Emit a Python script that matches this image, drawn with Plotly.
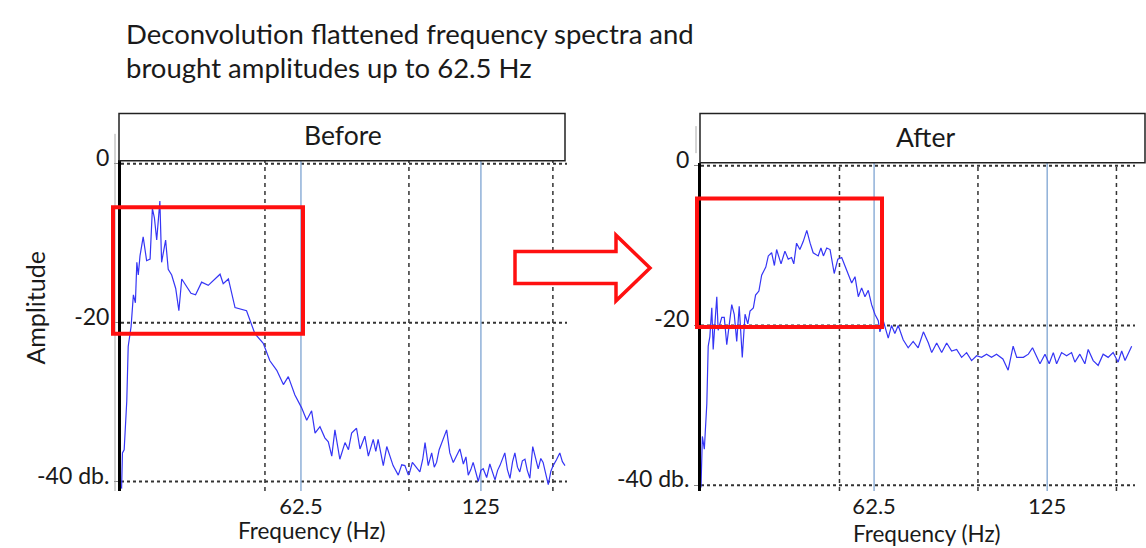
import plotly.graph_objects as go

W, H = 1146, 548

# ---------------- data ----------------
before_freq = [0.2, 0.5, 1.1, 2.0, 2.5, 3.5, 4.3, 5.0, 5.5, 6.0, 6.6, 7.7, 8.9, 10.1, 10.9, 11.6, 12.4,
               13.5, 14.1, 15.5, 16.4, 17.6, 19.0, 20.1, 21.1, 22.5, 24.3, 25.9, 28.0, 30.3, 32.6,
               34.4, 35.5, 37.3, 39.6, 41.3, 43.6, 46.5, 49.4, 51.7, 54.1, 56.4, 58.1, 60.4, 62.7,
               64.5, 66.2, 67.4, 69.1, 70.8, 72.0, 73.2, 74.3, 76.0, 77.8, 79.0, 80.1, 81.8, 83.0,
               84.7, 85.9, 87.6, 88.5, 89.3, 91.1, 92.3, 93.5, 94.5, 96.3, 97.5, 98.6, 99.8, 100.3,
               101.2, 102.1, 103.8, 104.8, 105.6, 106.7, 107.9, 108.8, 109.6, 110.5, 111.4, 113.1,
               114.2, 115.4, 116.5, 117.7, 118.9, 119.8, 120.6, 121.5, 122.3, 124.1, 125.0, 125.8,
               127.0, 128.1, 129.9, 130.8, 131.6, 132.5, 133.3, 134.2, 135.1, 136.0, 136.8, 137.7,
               138.5, 139.4, 140.3, 141.1, 142.0, 143.0, 144.0, 144.9, 145.8, 146.6, 147.5, 148.4,
               149.3, 150.1, 151.2, 152.4, 153.3, 154.2]
before_amp = [-40.9, -36.4, -36.0, -29.9, -23.0, -20.5, -16.5, -17.5, -12.4, -14.0, -11.6, -9.2, -12.2,
              -12.0, -5.6, -6.8, -9.6, -4.7, -12.4, -9.6, -13.3, -14.0, -15.7, -18.5, -14.5, -15.3,
              -16.3, -16.5, -14.9, -15.3, -14.5, -13.9, -15.1, -14.5, -18.1, -18.3, -18.5, -21.4,
              -22.6, -24.8, -26.0, -27.8, -26.8, -29.1, -30.7, -32.3, -31.1, -33.9, -33.1, -34.5,
              -35.0, -36.8, -33.5, -37.2, -35.1, -36.0, -33.9, -33.3, -35.9, -34.3, -36.8, -34.7,
              -36.2, -34.7, -38.0, -35.6, -37.0, -38.0, -39.2, -37.9, -38.0, -39.2, -38.8, -37.6,
              -38.0, -38.8, -37.2, -35.1, -38.0, -36.4, -38.2, -37.6, -36.0, -35.1, -33.5, -36.4,
              -37.6, -36.8, -35.9, -37.8, -36.9, -39.2, -38.5, -37.6, -40.0, -38.6, -38.4, -39.5,
              -37.8, -39.8, -38.6, -38.0, -37.0, -36.4, -38.5, -39.6, -37.5, -36.4, -38.2, -38.8,
              -37.4, -37.2, -38.6, -39.6, -35.6, -37.0, -38.4, -37.1, -37.6, -39.0, -40.4, -38.7,
              -38.0, -37.3, -36.4, -37.5, -38.0]

after_freq = [0.0, 0.5, 1.2, 2.1, 2.6, 3.2, 3.9, 4.4, 5.1, 5.7, 6.2, 7.5, 8.4, 9.3, 11.1, 12.0, 12.9,
              13.8, 14.9, 15.9, 16.9, 17.7, 18.9, 19.7, 20.9, 21.9, 23.4, 24.3, 25.5, 26.5, 27.3,
              28.9, 30.3, 31.5, 32.7, 33.5, 34.5, 35.7, 36.9, 38.2, 39.4, 40.5, 42.3, 43.3, 44.2,
              45.4, 46.6, 48.1, 49.4, 50.8, 52.6, 54.4, 55.6, 56.8, 58.0, 59.2, 60.4, 61.6, 62.8,
              64.0, 64.6, 65.8, 67.6, 68.8, 70.0, 71.2, 73.0, 74.8, 76.6, 78.4, 80.3, 82.1, 83.3,
              85.1, 86.9, 88.7, 90.5, 92.3, 94.1, 95.9, 97.7, 99.5, 101.3, 103.1, 104.9, 106.7,
              109.0, 110.9, 112.7, 114.0, 116.4, 118.2, 119.7, 121.2, 122.4, 124.2, 125.7, 127.2,
              128.4, 130.2, 132.0, 133.8, 135.0, 136.8, 138.6, 139.8, 141.6, 143.4, 145.2, 147.0,
              148.8, 150.6, 151.9, 153.1, 154.3, 155.5]
after_amp = [-40.3, -33.9, -35.5, -29.8, -22.6, -21.4, -17.8, -23.0, -19.4, -16.4, -20.6, -19.0, -19.0,
             -22.4, -17.4, -18.6, -22.0, -17.6, -24.0, -18.6, -19.8, -18.2, -17.8, -16.2, -15.7,
             -13.7, -12.7, -11.3, -10.9, -12.5, -10.5, -12.3, -10.7, -11.7, -11.5, -12.3, -9.7,
             -10.5, -9.5, -8.1, -9.7, -10.9, -11.3, -10.3, -11.3, -10.3, -10.5, -13.5, -11.7,
             -11.5, -13.1, -14.7, -13.9, -16.4, -15.3, -16.4, -15.6, -17.4, -18.6, -19.4, -20.8,
             -19.4, -21.6, -20.0, -21.0, -20.0, -21.8, -22.8, -22.0, -22.8, -20.8, -22.2, -23.4,
             -22.2, -23.4, -22.2, -23.2, -23.0, -24.0, -23.4, -24.4, -23.8, -24.0, -23.6, -24.0,
             -23.6, -24.2, -25.6, -22.6, -24.0, -24.0, -23.6, -22.8, -23.8, -24.8, -23.6, -24.8,
             -23.4, -24.8, -23.4, -23.8, -23.4, -24.6, -23.6, -24.8, -23.0, -24.4, -25.0, -23.6,
             -24.0, -23.4, -24.6, -23.2, -24.4, -23.4, -22.6]

x_tick_vals = [62.5, 125]
x_tick_text = ["62.5", "125"]
y_tick_vals = [0, -20, -40]
y_tick_text = ["0", "-20", "-40 db."]
dashed_grid_x = [50, 100, 150]
blue_grid_x = [62.5, 125]
panel_titles = ["Before", "After"]
title_lines = ["Deconvolution flattened frequency spectra and", "brought amplitudes up to 62.5 Hz"]

FONT = "Lato, 'Open Sans', sans-serif"
TXT = "#1a1a1a"
LINE_BLUE = "#3535f5"
GRID_BLUE = "#8fb0d8"
RED = "#ff1010"


def px(x):
    return x / W


def py(y):
    return 1 - y / H


fig = go.Figure()
fig.add_trace(go.Scatter(x=before_freq, y=before_amp, mode="lines",
                         line=dict(color=LINE_BLUE, width=1.2), xaxis="x", yaxis="y",
                         showlegend=False, hoverinfo="skip"))
fig.add_trace(go.Scatter(x=after_freq, y=after_amp, mode="lines",
                         line=dict(color=LINE_BLUE, width=1.2), xaxis="x2", yaxis="y2",
                         showlegend=False, hoverinfo="skip"))

# panel geometry (pixels)
panels = [
    dict(xa="x", ya="y", xl=121, xr=567, yt=147, yb=490, xrange=[0, 154.9], yrange=[-41.2, 0.49],
         head=(119, 565, 99, 148), box=(113, 303, 196, 327), faint=(115, 120, 490)),
    dict(xa="x2", ya="y2", xl=701, xr=1135, yt=150, yb=490, xrange=[0, 156.7], yrange=[-40.73, 0.36],
         head=(700, 1145, 99, 150), box=(697, 882, 187, 320), faint=(696, 112, 140)),
]

axis_common = dict(showgrid=False, zeroline=False, fixedrange=True)
layout_axes = {}
for i, p in enumerate(panels):
    suffix = "" if i == 0 else "2"
    layout_axes["xaxis" + suffix] = dict(
        axis_common, domain=[px(p["xl"]), px(p["xr"])], range=p["xrange"],
        anchor=p["ya"], tickvals=x_tick_vals, ticktext=x_tick_text, showline=False,
        ticks="", tickfont=dict(family=FONT, size=22, color=TXT))
    layout_axes["yaxis" + suffix] = dict(
        axis_common, domain=[py(p["yb"]), py(p["yt"])], range=p["yrange"],
        anchor=p["xa"], tickvals=y_tick_vals, ticktext=y_tick_text, showline=True,
        linecolor="black", linewidth=3, ticks="outside", ticklen=4, tickcolor="#888",
        ticklabelshift=-6, tickfont=dict(family=FONT, size=23, color=TXT))

shapes = []
for p in panels:
    xa, ya = p["xa"], p["ya"]
    for yv in y_tick_vals:
        shapes.append(dict(type="line", xref=xa + " domain", yref=ya, x0=0, x1=1, y0=yv, y1=yv,
                           line=dict(color="#333", width=2, dash="dot"), layer="below"))
    for xv in dashed_grid_x:
        shapes.append(dict(type="line", xref=xa, yref=ya + " domain", x0=xv, x1=xv, y0=0, y1=1,
                           line=dict(color="#333", width=1.5, dash="4px,4px"), layer="below"))
    for xv in blue_grid_x:
        shapes.append(dict(type="line", xref=xa, yref=ya + " domain", x0=xv, x1=xv, y0=0, y1=1,
                           line=dict(color=GRID_BLUE, width=1.5), layer="below"))
    fx, fy0, fy1 = p["faint"]
    shapes.append(dict(type="line", xref="paper", yref="paper", x0=px(fx), x1=px(fx),
                       y0=py(fy0), y1=py(fy1), line=dict(color="#aaa", width=1)))
    hx0, hx1, hy0, hy1 = p["head"]
    shapes.append(dict(type="rect", xref="paper", yref="paper", x0=px(hx0), x1=px(hx1),
                       y0=py(hy1), y1=py(hy0), line=dict(color="#222", width=1.5),
                       fillcolor="white"))
    bx0, bx1, by0, by1 = p["box"]
    shapes.append(dict(type="rect", xref="paper", yref="paper", x0=px(bx0), x1=px(bx1),
                       y0=py(by1), y1=py(by0), line=dict(color=RED, width=4)))

# arrow
arrow_pts = [(515, 242), (616, 242), (616, 225), (650, 259), (616, 293), (616, 275), (515, 275)]
path = "M " + " L ".join(f"{px(x):.5f},{py(y):.5f}" for x, y in arrow_pts) + " Z"
shapes.append(dict(type="path", xref="paper", yref="paper", path=path,
                   line=dict(color=RED, width=3.5), fillcolor="white"))


def label(text, x, y, size, angle=0, anchor="center"):
    return dict(text=text, xref="paper", yref="paper", x=px(x), y=py(y), textangle=angle,
                xanchor=anchor, yanchor="middle", showarrow=False,
                font=dict(family=FONT, size=size, color=TXT))


annotations = [
    label(title_lines[0], 124, 16, 27.5, anchor="left"),
    label(title_lines[1], 124, 51, 27.5, anchor="left"),
    label(panel_titles[0], 343, 121, 26.5),
    label(panel_titles[1], 925, 123, 26.5),
    label("Amplitude", 35, 301, 25, angle=-90),
    label("Frequency (Hz)", 312, 531, 22.5),
    label("Frequency (Hz)", 927, 534, 22.5),
]

fig.update_layout(width=W, height=H, margin=dict(l=0, r=0, t=0, b=0),
                  paper_bgcolor="white", plot_bgcolor="white",
                  shapes=shapes, annotations=annotations, **layout_axes)

fig.write_html("out.html", config={"displayModeBar": False})
